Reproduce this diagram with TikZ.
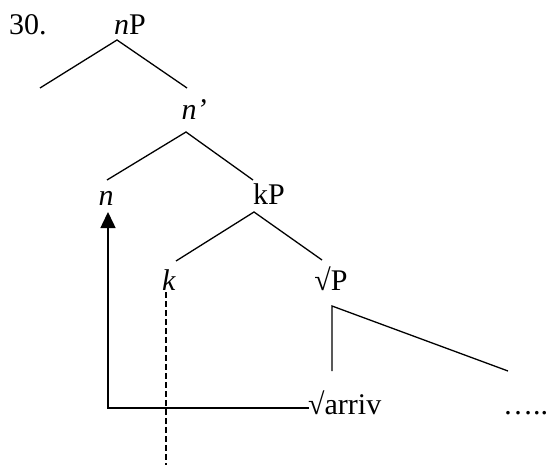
\documentclass[tikz,border=0pt]{standalone}
\usepackage{fontspec}
\setmainfont{Liberation Serif}
\usetikzlibrary{arrows.meta}
\begin{document}
\begin{tikzpicture}[x=1pt,y=-1pt,
  lbl/.style={anchor=base,inner sep=0pt,font=\fontsize{30}{36}\selectfont},
  branch/.style={line width=1.3pt},
  movearrow/.style={line width=1.5pt,-{Triangle[width=15pt,length=16pt]}},
  trace/.style={line width=1.5pt,dash pattern=on 5.5pt off 3.5pt}]
\useasboundingbox (0,0) rectangle (548,465);
% labels
\node[lbl,anchor=base west] (num) at (9,35) {30.};
\node[lbl] (nP) at (130,35) {\textit{n}P};
\node[lbl] (nbar) at (194,120) {\textit{n’}};
\node[lbl] (n) at (106,205) {\textit{n}};
\node[lbl] (kP) at (269,204) {kP};
\node[lbl] (k) at (169,290) {\textit{k}};
\node[lbl] (rP) at (331,290) {√P};
\node[lbl,anchor=base west] (arriv) at (308,414) {√arriv};
\node[lbl,anchor=base west] (dots) at (503,414) {…..};
% branch points
\coordinate (a1) at (117,40);
\coordinate (a1l) at (40,88);
\coordinate (a1r) at (187,88);
\coordinate (a2) at (186,132);
\coordinate (a2l) at (107,180);
\coordinate (a2r) at (253,180);
\coordinate (a3) at (254,212);
\coordinate (a3l) at (176,261);
\coordinate (a3r) at (322,260);
\coordinate (a4) at (332,306);
\coordinate (a4l) at (332,371);
\coordinate (a4r) at (508,371);
\coordinate (corner) at (108,408);
\coordinate (hend) at (309,408);
\coordinate (atip) at (108,212);
\coordinate (dtop) at (166,292);
\coordinate (dbot) at (166,465);
% tree
\draw[branch] (a1l) -- (a1) -- (a1r);
\draw[branch] (a2l) -- (a2) -- (a2r);
\draw[branch] (a3l) -- (a3) -- (a3r);
\draw[branch] (a4l) -- (a4) -- (a4r);
% movement
\draw[movearrow] (hend) -- (corner) -- (atip);
\draw[trace] (dtop) -- (dbot);
\end{tikzpicture}
\end{document}
